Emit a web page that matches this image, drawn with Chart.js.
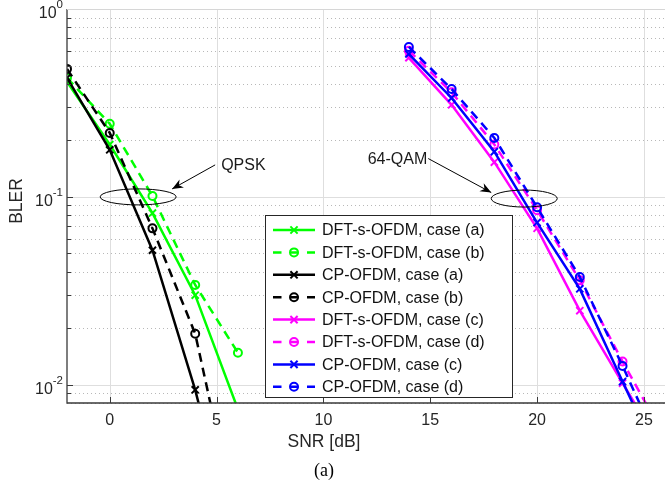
<!DOCTYPE html>
<html><head><meta charset="utf-8">
<script src="https://cdn.jsdelivr.net/npm/chart.js@4/dist/chart.umd.min.js"></script>
<style>html,body{margin:0;padding:0;background:#fff;overflow:hidden}</style>
</head><body>
<canvas id="c" width="665" height="493"></canvas>
<script>
// ---- data ----
const snrQpsk = [-2, 0, 2, 4, 6];
const snrQam  = [14, 16, 18, 20, 22, 24, 26];
const dftA = [0.41, 0.19, 0.082, 0.030, 0.0074];
const dftB = [0.43, 0.245, 0.101, 0.034, 0.0148];
const cpA  = [0.43, 0.178, 0.052, 0.0094, 0.0012];
const cpB  = [0.48, 0.219, 0.068, 0.0187, 0.0017];
const dftC = [0.55, 0.309, 0.153, 0.068, 0.0248, 0.0102, 0.0043];
const dftD = [0.60, 0.36, 0.19, 0.085, 0.036, 0.0133, 0.0052];
const cpC  = [0.576, 0.336, 0.174, 0.073, 0.0324, 0.0104, 0.0034];
const cpD  = [0.628, 0.375, 0.206, 0.088, 0.0375, 0.0126, 0.0040];
const seriesNames = ['DFT-s-OFDM, case (a)','DFT-s-OFDM, case (b)','CP-OFDM, case (a)','CP-OFDM, case (b)',
                     'DFT-s-OFDM, case (c)','DFT-s-OFDM, case (d)','CP-OFDM, case (c)','CP-OFDM, case (d)'];
const xTicks = [0, 5, 10, 15, 20, 25];
const yTicks = [1, 0.1, 0.01];
const yTickExp = ['0', '-1', '-2'];
const xTitle = 'SNR [dB]';
const yTitle = 'BLER';
const caption = '(a)';
const annQpsk = {text: 'QPSK', x: 1.33, y: 0.1};
const annQam  = {text: '64-QAM', x: 19.4, y: 0.098};

const FONT = "'Liberation Sans', Arial, Helvetica, sans-serif";
const DASH = [9, 6];

function mk(label, xs, ys, color, dashed) {
  return {
    label, data: xs.map((x, i) => ({x, y: ys[i]})),
    borderColor: color, backgroundColor: 'rgba(0,0,0,0)',
    borderWidth: 2.5, borderDash: dashed ? DASH : [],
    pointStyle: dashed ? 'circle' : 'crossRot',
    pointRadius: dashed ? 4 : 5, pointBorderWidth: 2,
    pointBorderColor: color, pointBackgroundColor: 'rgba(0,0,0,0)',
    pointHoverRadius: 0, tension: 0, fill: false
  };
}
const colors = ['#00ff00','#00ff00','#000000','#000000','#ff00ff','#ff00ff','#0000ff','#0000ff'];
const datasets = [
  mk(seriesNames[0], snrQpsk, dftA, colors[0], false),
  mk(seriesNames[1], snrQpsk, dftB, colors[1], true),
  mk(seriesNames[2], snrQpsk, cpA, colors[2], false),
  mk(seriesNames[3], snrQpsk, cpB, colors[3], true),
  mk(seriesNames[4], snrQam, dftC, colors[4], false),
  mk(seriesNames[5], snrQam, dftD, colors[5], true),
  mk(seriesNames[6], snrQam, cpC, colors[6], false),
  mk(seriesNames[7], snrQam, cpD, colors[7], true),
];
datasets.forEach((d, i) => d.order = datasets.length - i);

function drawMarker(ctx, style, x, y, color) {
  ctx.save();
  ctx.strokeStyle = color; ctx.lineWidth = 2; ctx.setLineDash([]);
  ctx.beginPath();
  if (style === 'circle') { ctx.arc(x, y, 4, 0, Math.PI * 2); }
  else { const o = 3.6; ctx.moveTo(x-o,y-o); ctx.lineTo(x+o,y+o); ctx.moveTo(x-o,y+o); ctx.lineTo(x+o,y-o); }
  ctx.stroke(); ctx.restore();
}

function arrow(ctx, x1, y1, x2, y2) {
  ctx.beginPath(); ctx.moveTo(x1, y1); ctx.lineTo(x2, y2); ctx.stroke();
  const a = Math.atan2(y2 - y1, x2 - x1), L = 11, W = 4.5;
  const bx = x2 - L * Math.cos(a), by = y2 - L * Math.sin(a);
  const nx = -Math.sin(a), ny = Math.cos(a);
  const mx = x2 - 0.7 * L * Math.cos(a), my = y2 - 0.7 * L * Math.sin(a);
  ctx.beginPath();
  ctx.moveTo(x2, y2); ctx.lineTo(bx + nx * W, by + ny * W); ctx.lineTo(mx, my);
  ctx.lineTo(bx - nx * W, by - ny * W); ctx.closePath(); ctx.fill();
}

const decor = {
  id: 'decor',
  beforeDatasetsDraw(chart) {
    const {ctx, chartArea: a, scales: {x, y}} = chart;
    const R = chart.width;
    ctx.save();
    // minor dotted y grid
    ctx.strokeStyle = '#b8b8b8'; ctx.lineWidth = 1; ctx.setLineDash([1, 3]);
    for (let e = -3; e <= 0; e++) for (let m = 2; m <= 9; m++) {
      const v = m * Math.pow(10, e);
      if (v < y.min || v >= y.max) continue;
      const py = Math.round(y.getPixelForValue(v)) + 0.5;
      ctx.beginPath(); ctx.moveTo(a.left, py); ctx.lineTo(R, py); ctx.stroke();
    }
    ctx.setLineDash([]);
    ctx.strokeStyle = '#dedede';
    yTicks.forEach(v => {
      const py = Math.round(y.getPixelForValue(v)) + 0.5;
      ctx.beginPath(); ctx.moveTo(a.left, py); ctx.lineTo(R, py); ctx.stroke();
    });
    xTicks.forEach(v => {
      const px = Math.round(x.getPixelForValue(v)) + 0.5;
      ctx.beginPath(); ctx.moveTo(px, a.top); ctx.lineTo(px, a.bottom); ctx.stroke();
    });
    ctx.restore();
  },
  afterDatasetsDraw(chart) {
    const {ctx, chartArea: a, scales: {x, y}} = chart;
    const R = chart.width;
    ctx.save();
    // axes
    ctx.strokeStyle = '#3a3a3a'; ctx.lineWidth = 1.3;
    ctx.beginPath(); ctx.moveTo(a.left, a.top); ctx.lineTo(a.left, a.bottom); ctx.lineTo(R, a.bottom); ctx.stroke();
    ctx.lineWidth = 1;
    for (let e = -3; e <= 0; e++) for (let m = 1; m <= 9; m++) {
      const v = m * Math.pow(10, e);
      if (v <= y.min || v > y.max) continue;
      const py = Math.round(y.getPixelForValue(v)) + 0.5;
      ctx.beginPath(); ctx.moveTo(a.left, py); ctx.lineTo(a.left + (m === 1 ? 6 : 4), py); ctx.stroke();
    }
    xTicks.forEach(v => {
      const px = Math.round(x.getPixelForValue(v)) + 0.5;
      ctx.beginPath(); ctx.moveTo(px, a.bottom); ctx.lineTo(px, a.bottom - 6); ctx.stroke();
    });
    // annotations
    ctx.strokeStyle = '#000'; ctx.fillStyle = '#000'; ctx.lineWidth = 1;
    const q = {x: x.getPixelForValue(annQpsk.x), y: y.getPixelForValue(annQpsk.y)};
    ctx.beginPath(); ctx.ellipse(q.x, q.y, 38, 8, 0, 0, Math.PI * 2); ctx.stroke();
    arrow(ctx, q.x + 77, q.y - 32, q.x + 34, q.y - 8);
    const m = {x: x.getPixelForValue(annQam.x), y: y.getPixelForValue(annQam.y)};
    ctx.beginPath(); ctx.ellipse(m.x, m.y, 33, 8.5, 0, 0, Math.PI * 2); ctx.stroke();
    arrow(ctx, m.x - 96, m.y - 40, m.x - 33, m.y - 6);
    ctx.font = '16px ' + FONT; ctx.textBaseline = 'middle'; ctx.fillStyle = '#1a1a1a';
    ctx.textAlign = 'left'; ctx.fillText(annQpsk.text, q.x + 83, q.y - 31);
    ctx.textAlign = 'right'; ctx.fillText(annQam.text, m.x - 97, m.y - 39);
    // legend
    const L = {l: 265, t: 215, r: 513, b: 398};
    ctx.fillStyle = '#fff'; ctx.fillRect(L.l, L.t, L.r - L.l, L.b - L.t);
    ctx.strokeStyle = '#262626'; ctx.lineWidth = 1;
    ctx.strokeRect(L.l + 0.5, L.t + 0.5, L.r - L.l - 1, L.b - L.t - 1);
    chart.data.datasets.forEach((d, i) => {
      const yy = 230 + i * 22.4;
      ctx.strokeStyle = d.borderColor; ctx.lineWidth = 2.5;
      ctx.setLineDash(d.borderDash.length ? [8.5, 8.5] : []);
      ctx.beginPath(); ctx.moveTo(273, yy); ctx.lineTo(315, yy); ctx.stroke();
      ctx.setLineDash([]);
      drawMarker(ctx, d.pointStyle, 294, yy, d.borderColor);
      ctx.fillStyle = '#111'; ctx.font = '16px ' + FONT; ctx.textAlign = 'left'; ctx.textBaseline = 'middle';
      ctx.fillText(d.label, 322, yy + 1);
    });
    ctx.restore();
  },
  afterDraw(chart) {
    const {ctx, chartArea: a, scales: {x, y}} = chart;
    ctx.save();
    // light top border
    ctx.strokeStyle = '#d6d6d6'; ctx.lineWidth = 1;
    ctx.beginPath(); ctx.moveTo(a.left, a.top + 0.5); ctx.lineTo(chart.width, a.top + 0.5); ctx.stroke();
    ctx.fillStyle = '#262626';
    ctx.font = '16px ' + FONT; ctx.textAlign = 'center'; ctx.textBaseline = 'middle';
    xTicks.forEach(v => ctx.fillText(String(v), x.getPixelForValue(v), 421));
    yTicks.forEach((v, i) => {
      const py = y.getPixelForValue(v);
      ctx.font = '11.5px ' + FONT; ctx.textAlign = 'left'; ctx.textBaseline = 'middle';
      const ew = ctx.measureText(yTickExp[i]).width;
      const right = 63;
      ctx.fillText(yTickExp[i], right - ew, py - 4);
      ctx.font = '16px ' + FONT; ctx.textAlign = 'right';
      ctx.fillText('10', right - ew, py + 5);
    });
    ctx.font = '17.5px ' + FONT; ctx.textAlign = 'center'; ctx.textBaseline = 'middle';
    ctx.fillText(xTitle, 324, 442);
    ctx.save(); ctx.translate(17, 201); ctx.rotate(-Math.PI / 2); ctx.fillText(yTitle, 0, 0); ctx.restore();
    ctx.fillStyle = '#000';
    ctx.font = "18px 'Liberation Serif', 'Times New Roman', serif";
    ctx.fillText(caption, 324, 471);
    ctx.restore();
  }
};

new Chart(document.getElementById('c'), {
  type: 'line',
  data: {datasets},
  options: {
    responsive: false, animation: false, events: [],
    layout: {padding: {left: 0, right: 0, top: 9, bottom: 0}},
    plugins: {legend: {display: false}, tooltip: {enabled: false}},
    scales: {
      x: {type: 'linear', min: -2, max: 25.66,
          grid: {display: false}, border: {display: false}, ticks: {display: false},
          afterFit(s) { s.height = 90; }},
      y: {type: 'logarithmic', min: 0.008, max: 1,
          grid: {display: false}, border: {display: false}, ticks: {display: false},
          afterFit(s) { s.width = 67; }}
    }
  },
  plugins: [decor]
});
</script>
</body></html>
